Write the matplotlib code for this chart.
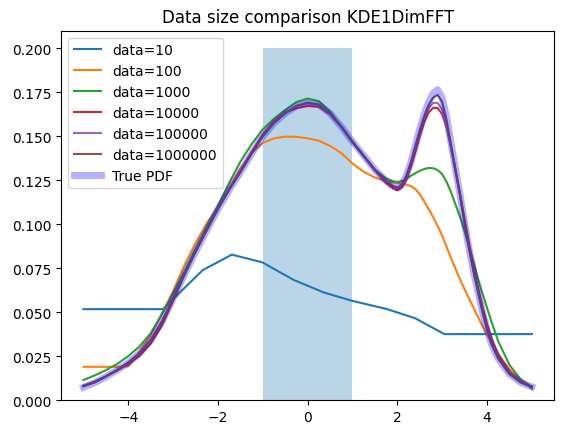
import matplotlib
matplotlib.use("Agg")
import matplotlib.pyplot as plt

# common x grid for the smooth curves
x = [-5, -4.75, -4.5, -4.25, -4, -3.75, -3.5, -3.25, -3, -2.75, -2.5, -2.25,
     -2, -1.75, -1.5, -1.25, -1, -0.75, -0.5, -0.25, 0, 0.25, 0.5, 0.75,
     1, 1.25, 1.5, 1.75,
     1.9, 2.0, 2.1, 2.2, 2.3, 2.4, 2.5, 2.6, 2.7, 2.8, 2.9, 3.0, 3.1, 3.2,
     3.3, 3.4, 3.5, 3.6, 3.7, 3.8, 3.9, 4.0, 4.1,
     4.25, 4.5, 4.75, 5]

# data=10 (piecewise linear)
x10 = [-5, -3.23, -2.34, -1.69, -1.01, -0.31, 0.36, 0.98, 1.76, 2.39, 3.05, 5]
y10 = [0.0517, 0.0517, 0.0739, 0.0827, 0.0783, 0.0683, 0.0612, 0.0565,
       0.0518, 0.0466, 0.0375, 0.0375]

y100 = [0.0189, 0.0189, 0.0189, 0.0189, 0.0192, 0.0275, 0.0370, 0.0490, 0.0620,
        0.0765, 0.0893, 0.1005, 0.1100, 0.1205, 0.1315, 0.1405, 0.1462, 0.1488,
        0.1498, 0.1497, 0.1488, 0.1475, 0.1445, 0.1405, 0.1345, 0.1298, 0.1265,
        0.1245,
        0.1238, 0.1234, 0.1230, 0.1225, 0.1217, 0.1200, 0.1170, 0.1130, 0.1085,
        0.1040, 0.0990, 0.0935, 0.0870, 0.0805, 0.0745, 0.0685, 0.0630, 0.0577,
        0.0525, 0.0472, 0.0420, 0.0372, 0.0328,
        0.0262, 0.0175, 0.0118, 0.0075]

y1000 = [0.0114, 0.0140, 0.0170, 0.0205, 0.0250, 0.0305, 0.0380, 0.0490, 0.0605,
         0.0730, 0.0860, 0.0985, 0.1105, 0.1235, 0.1355, 0.1455, 0.1540, 0.1600,
         0.1650, 0.1695, 0.1715, 0.1700, 0.1640, 0.1555, 0.1465, 0.1385, 0.1310,
         0.1260,
         0.1245, 0.1240, 0.1245, 0.1258, 0.1275, 0.1290, 0.1303, 0.1314, 0.1320,
         0.1318, 0.1308, 0.1285, 0.1240, 0.1180, 0.1110, 0.1040, 0.0960, 0.0870,
         0.0785, 0.0690, 0.0605, 0.0525, 0.0445,
         0.0335, 0.0200, 0.0118, 0.0065]

y10000 = [0.0082, 0.0105, 0.0135, 0.0168, 0.0205, 0.0252, 0.0322, 0.0425, 0.0565,
          0.0710, 0.0845, 0.0970, 0.1090, 0.1200, 0.1300, 0.1410, 0.1510, 0.1585,
          0.1635, 0.1660, 0.1672, 0.1668, 0.1625, 0.1555, 0.1470, 0.1388, 0.1305,
          0.1235,
          0.1205, 0.1192, 0.1208, 0.1255, 0.1325, 0.1410, 0.1500, 0.1580, 0.1635,
          0.1662, 0.1660, 0.1625, 0.1550, 0.1435, 0.1305, 0.1170, 0.1030, 0.0890,
          0.0760, 0.0640, 0.0530, 0.0432, 0.0350,
          0.0255, 0.0158, 0.0107, 0.0078]

y100000 = [0.0080, 0.0102, 0.0135, 0.0172, 0.0214, 0.0268, 0.0342, 0.0447, 0.0580,
           0.0714, 0.0844, 0.0967, 0.1087, 0.1197, 0.1297, 0.1402, 0.1502, 0.1577,
           0.1632, 0.1672, 0.1686, 0.1678, 0.1628, 0.1553, 0.1468, 0.1388, 0.1308,
           0.1243,
           0.1218, 0.1205, 0.1222, 0.1270, 0.1345, 0.1435, 0.1525, 0.1605, 0.1660,
           0.1690, 0.1690, 0.1650, 0.1560, 0.1430, 0.1295, 0.1160, 0.1005, 0.0862,
           0.0735, 0.0618, 0.0505, 0.0405, 0.0322,
           0.0238, 0.0150, 0.0102, 0.0077]

y1000000 = [0.0078, 0.0100, 0.0133, 0.0171, 0.0213, 0.0266, 0.0341, 0.0446, 0.0579,
            0.0713, 0.0843, 0.0966, 0.1086, 0.1196, 0.1296, 0.1401, 0.1501, 0.1576,
            0.1631, 0.1673, 0.1691, 0.1681, 0.1630, 0.1555, 0.1470, 0.1390, 0.1310,
            0.1245,
            0.1218, 0.1208, 0.1225, 0.1275, 0.1350, 0.1443, 0.1535, 0.1615, 0.1680,
            0.1720, 0.1735, 0.1695, 0.1590, 0.1450, 0.1305, 0.1165, 0.1005, 0.0860,
            0.0730, 0.0613, 0.0500, 0.0400, 0.0318,
            0.0236, 0.0148, 0.0100, 0.0075]

ytrue = [0.0072, 0.0098, 0.0132, 0.0170, 0.0212, 0.0265, 0.0340, 0.0445, 0.0578,
         0.0712, 0.0842, 0.0965, 0.1085, 0.1195, 0.1295, 0.1400, 0.1500, 0.1575,
         0.1630, 0.1672, 0.1690, 0.1680, 0.1630, 0.1555, 0.1470, 0.1390, 0.1310,
         0.1245,
         0.1218, 0.1208, 0.1225, 0.1275, 0.1350, 0.1445, 0.1540, 0.1625, 0.1695,
         0.1745, 0.1765, 0.1720, 0.1610, 0.1460, 0.1310, 0.1165, 0.1005, 0.0860,
         0.0730, 0.0612, 0.0500, 0.0400, 0.0318,
         0.0235, 0.0148, 0.0100, 0.0075]

labels = ["data=10", "data=100", "data=1000", "data=10000", "data=100000",
          "data=1000000"]

# shaded uniform region
bar_center = 0
bar_height = 0.2
bar_width = 2

fig = plt.figure(figsize=(5.65, 4.35), dpi=100)
ax = fig.add_axes([0.108, 0.078, 0.873, 0.849])

ax.bar(bar_center, bar_height, width=bar_width, color="C0", alpha=0.3)

series = [(x10, y10), (x, y100), (x, y1000), (x, y10000), (x, y100000),
          (x, y1000000)]
for i, ((xs, ys), lab) in enumerate(zip(series, labels)):
    ax.plot(xs, ys, color=f"C{i}", label=lab, lw=1.5)

ax.plot(x, ytrue, color="blue", alpha=0.3, lw=5, label="True PDF")

ax.set_title("Data size comparison KDE1DimFFT")
ax.legend(loc="upper left")

fig.savefig("out.png", dpi=100)
